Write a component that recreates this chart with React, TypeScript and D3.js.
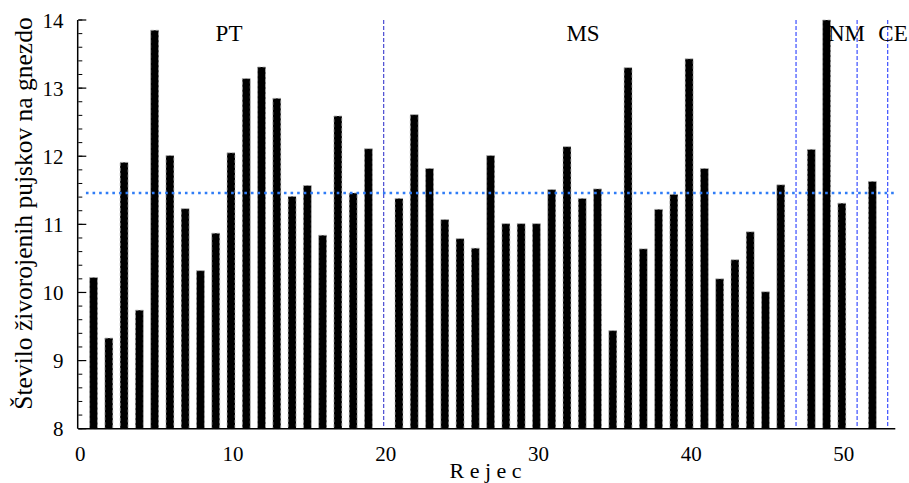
import React from "react";
import * as d3 from "d3";

const breeders: number[] = Array.from({ length: 52 }, (_, i) => i + 1);
const piglets: (number | null)[] = [
  10.22, 9.33, 11.91, 9.74, 13.85, 12.01, 11.23, 10.32, 10.87, 12.05,
  13.14, 13.31, 12.85, 11.41, 11.57, 10.84, 12.59, 11.46, 12.11, null,
  11.38, 12.61, 11.82, 11.07, 10.79, 10.65, 12.01, 11.01, 11.01, 11.01,
  11.51, 12.14, 11.38, 11.52, 9.44, 13.30, 10.64, 11.22, 11.44, 13.43,
  11.82, 10.20, 10.48, 10.89, 10.01, 11.58, null, 12.10, 14.0, 11.31,
  null, 11.63,
];
const meanValue = 11.46;
const groupNames = ["PT", "MS", "NM", "CE"];
const groupLabelX = [9.87, 33.05, 50.3, 53.35];
const dividers = [20, 47, 51, 53];
const xTicks = [0, 10, 20, 30, 40, 50];
const yTicks = [8, 9, 10, 11, 12, 13, 14];
const yTitle = "Število živorojenih pujskov na gnezdo";
const xTitle = "R e j e c";

const W = 909;
const H = 483;
const FONT = "Liberation Serif, Times New Roman, DejaVu Serif, serif";
const txt = { fontFamily: FONT };

export default function App() {
  const x = d3.scaleLinear().domain([0, 53.5]).range([78.3, 895.3]);
  const y = d3.scaleLinear().domain([8, 14]).range([428.7, 20]);
  const barW = x(0.52) - x(0);
  const minorTicks = d3.range(8, 14.001, 0.2);

  return (
    <svg
      width={W}
      height={H}
      style={{ position: "absolute", left: 0, top: 0, background: "#fff", fontFamily: FONT }}
    >
      {/* bars */}
      {breeders.map((b, i) => {
        const v = piglets[i];
        if (v == null) return null;
        return (
          <rect
            key={b}
            x={x(b) - barW / 2}
            y={y(v)}
            width={barW}
            height={y(8) - y(v)}
            fill="#000"
            stroke="#b0b0b0"
            strokeWidth={0.8}
            strokeDasharray="3,2"
          />
        );
      })}

      {/* divider lines */}
      {dividers.map((d, i) => (
        <line
          key={d}
          x1={x(d)}
          x2={x(d)}
          y1={y(14)}
          y2={y(8)}
          stroke={i === 0 ? "#2426c8" : "#4a5cff"}
          strokeWidth={i === 0 ? 1 : 1.3}
          strokeDasharray="4,2"
        />
      ))}

      {/* mean line */}
      <line
        x1={x(0.5)}
        x2={x(53.5)}
        y1={y(meanValue)}
        y2={y(meanValue)}
        stroke="#2f7cf6"
        strokeWidth={2.4}
        strokeDasharray="2.6,4"
      />

      {/* axes */}
      <line x1={x(0)} x2={x(53.5)} y1={y(8)} y2={y(8)} stroke="#000" strokeWidth={1.5} />
      <line x1={x(0) - 0.6} x2={x(0) - 0.6} y1={y(14)} y2={y(8)} stroke="#000" strokeWidth={1.5} />

      {minorTicks.map((t, i) => (
        <line
          key={"m" + i}
          x1={x(0)}
          x2={x(0) + 4}
          y1={y(t)}
          y2={y(t)}
          stroke="#000"
          strokeWidth={1}
        />
      ))}
      {yTicks.map((t) => (
        <g key={"y" + t}>
          <line x1={x(0)} x2={x(0) + 8} y1={y(t)} y2={y(t)} stroke="#000" strokeWidth={1.2} />
          <text x={63.5} y={y(t)} dy="0.37em" textAnchor="end" fontSize={21} fill="#000" style={txt}>
            {t}
          </text>
        </g>
      ))}
      {xTicks.map((t) => (
        <text key={"x" + t} x={x(t) + 2} y={460.5} textAnchor="middle" fontSize={21} fill="#000" style={txt}>
          {t}
        </text>
      ))}

      {/* group labels */}
      {groupNames.map((g, i) => (
        <text key={g} x={x(groupLabelX[i])} y={40.7} textAnchor="middle" fontSize={23} fill="#000" style={txt}>
          {g}
        </text>
      ))}

      {/* axis titles */}
      <text
        transform={`translate(32,213.5) rotate(-90)`}
        textAnchor="middle"
        fontSize={25.5}
        fill="#000"
        style={txt}
      >
        {yTitle}
      </text>
      <text x={485.5} y={477.5} textAnchor="middle" fontSize={22} fill="#000" style={txt}>
        {xTitle}
      </text>
    </svg>
  );
}
